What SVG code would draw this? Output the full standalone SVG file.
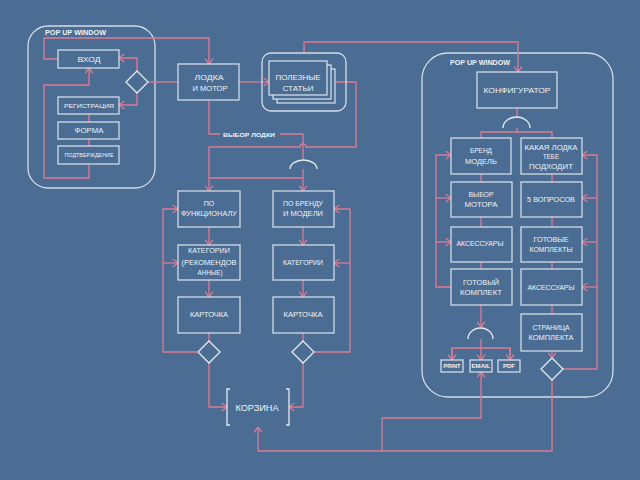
<svg xmlns="http://www.w3.org/2000/svg" width="640" height="480" viewBox="0 0 640 480">
  <style>
    .bg { fill: #4b6d93; }
    .box { fill: none; stroke: #dde5ee; stroke-width: 1.2; }
    .frame { fill: none; stroke: #d3dce7; stroke-width: 1.3; }
    .sym { fill: none; stroke: #e4eaf1; stroke-width: 1.3; }
    .wire { fill: none; stroke: #dc7b94; stroke-width: 1.3; }
    .arw { fill: none; stroke: #dc7b94; stroke-width: 1.3; marker-end: url(#arr); }
    text { font-family: "Liberation Sans", Arial, sans-serif; fill: #eef2f7; text-anchor: middle; }
    .t8 { font-size: 8px; }
    .t7 { font-size: 7px; }
    .t6 { font-size: 6px; }
    .t5 { font-size: 5px; }
    .hd { font-size: 7px; font-weight: bold; text-anchor: start; }
    .sm { font-size: 6px; font-weight: bold; }
  </style>
  <defs>
    <marker id="arr" viewBox="0 0 6 9" refX="5.6" refY="4.5" markerWidth="6" markerHeight="9" orient="auto" markerUnits="userSpaceOnUse">
      <path d="M0.3,0.5 L5.6,4.5 L0.3,8.5" fill="none" stroke="#dc7b94" stroke-width="1.3"/>
    </marker>
  </defs>

  <rect class="bg" x="0" y="0" width="640" height="480"/>

  <!-- login pop-up frame -->
  <g id="popup-login">
    <rect class="frame" x="28" y="26" width="127" height="162" rx="20"/>
    <text class="hd" x="45" y="35" textLength="61" lengthAdjust="spacingAndGlyphs">POP UP WINDOW</text>
  </g>

  <!-- configurator pop-up frame -->
  <g id="popup-config">
    <rect class="frame" x="422" y="53" width="191" height="344" rx="26"/>
    <text class="hd" x="450" y="65" textLength="60" lengthAdjust="spacingAndGlyphs">POP UP WINDOW</text>
  </g>

  <!-- connectors -->
  <g id="connectors">
    <!-- login pop-up -->
    <path class="arw" d="M58,59 H44 V38 H209 V64"/>
    <path class="wire" d="M148,82 H178"/>
    <path class="arw" d="M137,71 V58 H119"/>
    <path class="arw" d="M137,93 V105 H119"/>
    <path class="wire" d="M89,114 V122 M89,139 V146"/>
    <path class="arw" d="M89,164 V178 H44 V85 H89 V68"/>

    <!-- boat & motor -->
    <path class="arw" d="M239,82 H269"/>
    <path class="wire" d="M209,100 V134 H220"/>
    <path class="wire" d="M280,134 H303 V160"/>
    <path class="arw" d="M304,53 V42 H518 V72"/>
    <path class="arw" d="M336,82 H356 V147 H306 A3,3 0 0 0 300,147 H209 V191"/>
    <path class="arw" d="M303,169 V191"/>
    <path class="wire" d="M303,178 H209"/>

    <!-- catalogue columns -->
    <path class="arw" d="M209,227 V245"/>
    <path class="arw" d="M209,280 V297"/>
    <path class="wire" d="M209,333 V341"/>
    <path class="arw" d="M303,227 V245"/>
    <path class="arw" d="M303,280 V297"/>
    <path class="wire" d="M303,333 V341"/>
    <path class="arw" d="M197,352 H163 V209 H178"/>
    <path class="arw" d="M163,263 H178"/>
    <path class="arw" d="M314,352 H350 V209 H334"/>
    <path class="arw" d="M350,263 H334"/>
    <path class="arw" d="M209,363 V407 H227"/>
    <path class="arw" d="M303,363 V407 H289"/>

    <!-- configurator -->
    <path class="wire" d="M517,108 V117"/>
    <path class="wire" d="M517,128 V132 M481,138 V132 H552 V138"/>
    <path class="wire" d="M481,174 V182 M481,217 V227 M481,262 V269"/>
    <path class="wire" d="M552,174 V182 M552,217 V227 M552,262 V269 M552,305 V314"/>
    <path class="arw" d="M552,351 V358"/>
    <path class="arw" d="M451,287 H436 V155 H451"/>
    <path class="arw" d="M436,198 H451"/>
    <path class="arw" d="M436,242 H451"/>
    <path class="arw" d="M563,369 H597 V155 H582"/>
    <path class="arw" d="M597,198 H582"/>
    <path class="arw" d="M597,242 H582"/>
    <path class="arw" d="M597,287 H582"/>
    <path class="arw" d="M481,305 V327"/>
    <path class="wire" d="M481,339 V348 M452,360 V348 H510 V360"/>
    <path class="arw" d="M452,348 V360"/>
    <path class="arw" d="M481,348 V360"/>
    <path class="arw" d="M510,348 V360"/>

    <!-- return lines to the cart -->
    <path class="arw" d="M552,380 V451 H258 V427"/>
    <path class="arw" d="M382,451 V418 H481 V372"/>
  </g>

  <!-- login pop-up nodes -->
  <g id="vhod">
    <rect class="box" x="58" y="50" width="61" height="18"/>
    <text class="t7" x="89" y="61.5" textLength="23" lengthAdjust="spacingAndGlyphs">ВХОД</text>
  </g>
  <g id="login-choice">
    <path class="sym" d="M137,71 L148,82 L137,93 L126,82 Z"/>
  </g>
  <g id="registration">
    <rect class="box" x="58" y="97" width="61" height="17"/>
    <text class="t6" x="89" y="107.5" textLength="50" lengthAdjust="spacingAndGlyphs">РЕГИСТРАЦИЯ</text>
  </g>
  <g id="forma">
    <rect class="box" x="58" y="122" width="61" height="17"/>
    <text class="t7" x="89" y="133" textLength="29" lengthAdjust="spacingAndGlyphs">ФОРМА</text>
  </g>
  <g id="confirm">
    <rect class="box" x="58" y="146" width="61" height="18"/>
    <text class="t5" x="89" y="156.8" textLength="49" lengthAdjust="spacingAndGlyphs">ПОДТВЕРЖДЕНИЕ</text>
  </g>

  <!-- boat & motor -->
  <g id="boat-motor">
    <rect class="box" x="178" y="64" width="61" height="36"/>
    <text class="t8" x="209" y="80" textLength="29" lengthAdjust="spacingAndGlyphs">ЛОДКА</text>
    <text class="t8" x="210" y="91" textLength="35" lengthAdjust="spacingAndGlyphs">И МОТОР</text>
  </g>

  <!-- articles stack -->
  <g id="articles">
    <rect class="frame" x="262" y="53" width="84" height="58" rx="9"/>
    <rect class="box" x="277" y="69" width="58" height="34" style="fill:#4b6d93"/>
    <rect class="box" x="273" y="65" width="58" height="34" style="fill:#4b6d93"/>
    <rect class="box" x="269" y="61" width="58" height="34" style="fill:#4b6d93"/>
    <text class="t8" x="298" y="80" textLength="45" lengthAdjust="spacingAndGlyphs">ПОЛЕЗНЫЕ</text>
    <text class="t8" x="298" y="91" textLength="31" lengthAdjust="spacingAndGlyphs">СТАТЬИ</text>
  </g>

  <g id="boat-choice-label">
    <text class="sm" x="249" y="136.5" textLength="52" lengthAdjust="spacingAndGlyphs">ВЫБОР ЛОДКИ</text>
  </g>
  <g id="boat-split">
    <path class="sym" d="M290,169 A13.5,9 0 0 1 317,169"/>
  </g>

  <!-- catalogue: by function -->
  <g id="by-function">
    <rect class="box" x="178" y="191" width="62" height="36"/>
    <text class="t7" x="209" y="205.5">ПО</text>
    <text class="t7" x="209" y="215.5" textLength="56" lengthAdjust="spacingAndGlyphs">ФУНКЦИОНАЛУ</text>
  </g>
  <g id="categories-rec">
    <rect class="box" x="178" y="245" width="62" height="35"/>
    <text class="t7" x="209" y="252.5" textLength="42" lengthAdjust="spacingAndGlyphs">КАТЕГОРИИ</text>
    <text class="t7" x="209" y="264.5" textLength="55" lengthAdjust="spacingAndGlyphs">(РЕКОМЕНДОВ</text>
    <text class="t7" x="210" y="275" textLength="25" lengthAdjust="spacingAndGlyphs">АННЫЕ)</text>
  </g>
  <g id="card-left">
    <rect class="box" x="178" y="297" width="62" height="36"/>
    <text class="t7" x="209" y="316.5" textLength="38" lengthAdjust="spacingAndGlyphs">КАРТОЧКА</text>
  </g>
  <g id="choice-left">
    <path class="sym" d="M209,341 L220,352 L209,363 L198,352 Z"/>
  </g>

  <!-- catalogue: by brand -->
  <g id="by-brand">
    <rect class="box" x="273" y="191" width="61" height="36"/>
    <text class="t7" x="303" y="205.5" textLength="40" lengthAdjust="spacingAndGlyphs">ПО БРЕНДУ</text>
    <text class="t7" x="303" y="215.5" textLength="40" lengthAdjust="spacingAndGlyphs">И МОДЕЛИ</text>
  </g>
  <g id="categories">
    <rect class="box" x="273" y="245" width="61" height="35"/>
    <text class="t7" x="303" y="264.5" textLength="40" lengthAdjust="spacingAndGlyphs">КАТЕГОРИИ</text>
  </g>
  <g id="card-right">
    <rect class="box" x="273" y="297" width="61" height="36"/>
    <text class="t7" x="303" y="316.5" textLength="39" lengthAdjust="spacingAndGlyphs">КАРТОЧКА</text>
  </g>
  <g id="choice-right">
    <path class="sym" d="M303,341 L314,352 L303,363 L292,352 Z"/>
  </g>

  <!-- cart -->
  <g id="cart">
    <path class="sym" d="M230,389 H227 V425 H230 M286,389 H289 V425 H286"/>
    <text x="257" y="410.5" style="font-size:9px" textLength="43" lengthAdjust="spacingAndGlyphs">КОРЗИНА</text>
  </g>

  <!-- configurator -->
  <g id="configurator">
    <rect class="box" x="477" y="72" width="80" height="36"/>
    <text class="t8" x="517" y="93" textLength="67" lengthAdjust="spacingAndGlyphs">КОНФИГУРАТОР</text>
  </g>
  <g id="config-split">
    <path class="sym" d="M503,128 A13.5,11 0 0 1 530,128"/>
  </g>
  <g id="brand-model">
    <rect class="box" x="451" y="138" width="60" height="36"/>
    <text class="t7" x="481" y="152.5" textLength="22" lengthAdjust="spacingAndGlyphs">БРЕНД</text>
    <text class="t7" x="481" y="163.5" textLength="32" lengthAdjust="spacingAndGlyphs">МОДЕЛЬ</text>
  </g>
  <g id="which-boat">
    <rect class="box" x="521" y="138" width="61" height="36"/>
    <text class="t7" x="551" y="149.5" textLength="53" lengthAdjust="spacingAndGlyphs">КАКАЯ ЛОДКА</text>
    <text class="t7" x="551" y="158.5" textLength="16" lengthAdjust="spacingAndGlyphs">ТЕБЕ</text>
    <text class="t7" x="551" y="168.5" textLength="44" lengthAdjust="spacingAndGlyphs">ПОДХОДИТ</text>
  </g>
  <g id="motor-choice">
    <rect class="box" x="451" y="182" width="61" height="35"/>
    <text class="t7" x="481" y="196.5" textLength="25" lengthAdjust="spacingAndGlyphs">ВЫБОР</text>
    <text class="t7" x="481" y="206.5" textLength="33" lengthAdjust="spacingAndGlyphs">МОТОРА</text>
  </g>
  <g id="five-questions">
    <rect class="box" x="521" y="182" width="61" height="35"/>
    <text class="t7" x="551" y="201.5" textLength="48" lengthAdjust="spacingAndGlyphs">5 ВОПРОСОВ</text>
  </g>
  <g id="accessories-left">
    <rect class="box" x="451" y="227" width="61" height="35"/>
    <text class="t7" x="480" y="245.5" textLength="47" lengthAdjust="spacingAndGlyphs">АКСЕССУАРЫ</text>
  </g>
  <g id="ready-sets">
    <rect class="box" x="521" y="227" width="61" height="35"/>
    <text class="t7" x="551" y="241.5" textLength="35" lengthAdjust="spacingAndGlyphs">ГОТОВЫЕ</text>
    <text class="t7" x="551" y="251.5" textLength="43" lengthAdjust="spacingAndGlyphs">КОМПЛЕКТЫ</text>
  </g>
  <g id="ready-set">
    <rect class="box" x="451" y="269" width="61" height="36"/>
    <text class="t7" x="481" y="284.5" textLength="36" lengthAdjust="spacingAndGlyphs">ГОТОВЫЙ</text>
    <text class="t7" x="481" y="294.5" textLength="42" lengthAdjust="spacingAndGlyphs">КОМПЛЕКТ</text>
  </g>
  <g id="accessories-right">
    <rect class="box" x="521" y="269" width="61" height="36"/>
    <text class="t7" x="551" y="289.5" textLength="47" lengthAdjust="spacingAndGlyphs">АКСЕССУАРЫ</text>
  </g>
  <g id="set-page">
    <rect class="box" x="521" y="314" width="61" height="37"/>
    <text class="t7" x="551" y="329.5" textLength="37" lengthAdjust="spacingAndGlyphs">СТРАНИЦА</text>
    <text class="t7" x="551" y="339.5" textLength="45" lengthAdjust="spacingAndGlyphs">КОМПЛЕКТА</text>
  </g>
  <g id="set-choice">
    <path class="sym" d="M552,358 L563,369 L552,380 L541,369 Z"/>
  </g>
  <g id="export-split">
    <path class="sym" d="M468,339 A12.5,11 0 0 1 493,339"/>
  </g>
  <g id="print">
    <rect class="box" x="441" y="360" width="22" height="12"/>
    <text class="sm" x="452" y="368.2" textLength="17" lengthAdjust="spacingAndGlyphs">PRINT</text>
  </g>
  <g id="email">
    <rect class="box" x="470" y="360" width="22" height="12"/>
    <text class="sm" x="481" y="368.2" textLength="19" lengthAdjust="spacingAndGlyphs">EMAIL</text>
  </g>
  <g id="pdf">
    <rect class="box" x="498" y="360" width="22" height="12"/>
    <text class="sm" x="509" y="368.2" textLength="12" lengthAdjust="spacingAndGlyphs">PDF</text>
  </g>
</svg>
